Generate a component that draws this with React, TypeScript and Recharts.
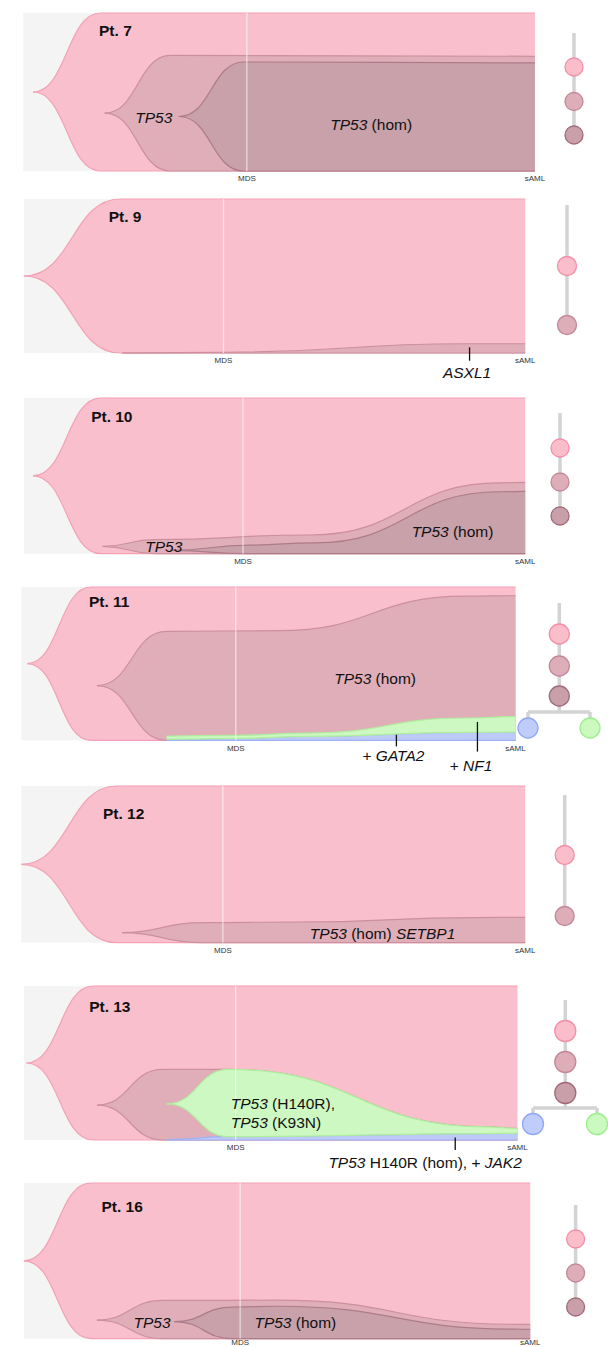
import React from 'react';
import {
  ComposedChart,
  Area,
  XAxis,
  YAxis,
  CartesianGrid,
  ReferenceLine,
  ReferenceDot,
} from 'recharts';

const FONT = '"Liberation Sans", Arial, Helvetica, sans-serif';

// clone rows: [time (% of course), lower %, upper %]
const pt7Founder = [[1.9, 50, 50], [15.1, 0, 100], [100, 0, 100]];
const pt7Tp53 = [[15.9, 36.6, 36.6], [28.8, 0, 73.2], [100, 0, 72.6]];
const pt7Hom = [[30.4, 34.5, 34.5], [43.1, 0, 69], [100, 0, 68.4]];

const pt9Founder = [[0, 50, 50], [19.2, 0, 100], [100, 0, 100]];
const pt9Asxl1 = [[19.6, 0, 0], [40, 0, 0.5], [88, 0, 6], [100, 0, 6]];

const pt10Founder = [[1.8, 50, 50], [15.3, 0, 100], [100, 0, 100]];
const pt10Tp53 = [[15.7, 4.7, 4.7], [26.1, 0, 9], [57, 0, 12], [95, 0, 45.5], [100, 0, 45.8]];
const pt10Hom = [[29.2, 2.1, 2.1], [45, 0, 5.5], [58, 0, 7], [95, 0, 39.8], [100, 0, 40]];

const pt11Founder = [[1.2, 50, 50], [14.1, 0, 100], [100, 0, 100]];
const pt11Hom = [[15.3, 35.7, 35.7], [29.4, 0, 71.1], [52, 0, 71.5], [90, 0, 94], [100, 0, 94.3]];
const pt11Blue = [[29.4, 0, 0.8], [43.4, 0, 1.3], [58, 0, 2.6], [90, 0, 5.2], [100, 0, 5.4]];
const pt11Green = [[29.4, 0.8, 2.8], [43.4, 1.3, 3.3], [58, 2.6, 4.8], [90, 5.2, 14.6], [100, 5.4, 15.5]];

const pt12Founder = [[0, 50, 50], [18.9, 0, 100], [100, 0, 100]];
const pt12Hom = [[20, 6.4, 6.4], [35.8, 0, 12.8], [55, 0, 13.2], [90, 0, 16], [100, 0, 16.2]];

const pt13Founder = [[0.5, 50, 50], [14, 0, 100], [100, 0, 100]];
const pt13Tp53 = [[14.8, 22.7, 22.7], [28.1, 0, 45.9], [41.5, 0, 45.9], [94, 0, 8.5], [100, 0, 7.6]];
const pt13Blue = [[28.9, 0, 0.3], [41.5, 0, 2.2], [94, 0, 4.2], [100, 0, 4.3]];
const pt13Green = [[28.9, 23.5, 23.5], [41.5, 2.2, 45.9], [94, 4.2, 8.5], [100, 4.3, 7.6]];

const pt16Founder = [[0, 50, 50], [13.2, 0, 100], [100, 0, 100]];
const pt16Tp53 = [[14.4, 11.9, 11.9], [27.4, 0, 24.5], [50, 0, 24.7], [97, 0, 9.2], [100, 0, 9.1]];
const pt16Hom = [[29.7, 10.9, 10.9], [41.2, 0, 20.2], [50, 0, 20.8], [97, 0, 6.1], [100, 0, 5.9]];

const patients = ['Pt. 7', 'Pt. 9', 'Pt. 10', 'Pt. 11', 'Pt. 12', 'Pt. 13', 'Pt. 16'];
const mdsTimes = [43.7, 39.8, 43.7, 43.4, 40, 42.9, 42.7];
const timeTicks = ['MDS', 'sAML'];

type Part = [string, boolean];
type Note = { t: number; y: number; parts: Part[]; anchor?: 'start' | 'middle' | 'end' };
type Tick = { t: number; y1: number; y2: number };

const C = {
  founder: { fill: '#fabfcc', stroke: '#f4a1b5' },
  tp53: { fill: '#dfaeb9', stroke: '#cc8f9e' },
  hom: { fill: '#c9a1aa', stroke: '#ad7b89' },
  green: { fill: '#cdf8c2', stroke: '#aeee9c' },
  blue: { fill: '#bdcaf8', stroke: '#9fb2f4' },
};

const NODE = {
  pink: { fill: '#fabecb', stroke: '#f38ea7' },
  mauve: { fill: '#ddadb8', stroke: '#c4879a' },
  dark: { fill: '#c9a0a9', stroke: '#a2697a' },
  blue: { fill: '#c0ccfa', stroke: '#8fa7f5' },
  green: { fill: '#ccf9c0', stroke: '#9cee8a' },
};

const panels = [
  {
    left: 23.3, right: 534.9, top: 12.7, h: 158, tickGap: 4.5,
    clones: [
      { rows: pt7Founder, ...C.founder },
      { rows: pt7Tp53, ...C.tp53 },
      { rows: pt7Hom, ...C.hom },
    ],
    title: { t: 14.8, y: 89.5 },
    notes: [
      { t: 25.5, y: 34.2, parts: [['TP53', true]] },
      { t: 68, y: 30, parts: [['TP53', true], [' (hom)', false]] },
    ] as Note[],
    ticks: [] as Tick[],
    tree: { x: 574, top: 33, r: 9, nodes: [67, 101.5, 135], colors: ['pink', 'mauve', 'dark'] },
  },
  {
    left: 24, right: 525.2, top: 199.3, h: 154, tickGap: 4.5,
    clones: [
      { rows: pt9Founder, ...C.founder },
      { rows: pt9Asxl1, ...C.tp53 },
    ],
    title: { t: 16.9, y: 88.7 },
    notes: [{ t: 88.4, y: -12.5, parts: [['ASXL1', true]] }] as Note[],
    ticks: [{ t: 88.9, y1: 3.7, y2: -5 }],
    tree: { x: 567, top: 205, r: 9.5, nodes: [266, 325], colors: ['pink', 'mauve'] },
  },
  {
    left: 24, right: 525.2, top: 398.3, h: 155.7, tickGap: 4.5,
    clones: [
      { rows: pt10Founder, ...C.founder },
      { rows: pt10Tp53, ...C.tp53 },
      { rows: pt10Hom, ...C.hom },
    ],
    title: { t: 13.4, y: 88.2 },
    notes: [
      { t: 27.9, y: 4.7, parts: [['TP53', true]] },
      { t: 85.5, y: 14.8, parts: [['TP53', true], [' (hom)', false]] },
    ] as Note[],
    ticks: [] as Tick[],
    tree: { x: 560, top: 413, r: 9, nodes: [448, 482, 516], colors: ['pink', 'mauve', 'dark'] },
  },
  {
    left: 21.3, right: 515.5, top: 587.3, h: 153.4, tickGap: 4.5,
    clones: [
      { rows: pt11Founder, ...C.founder },
      { rows: pt11Hom, ...C.tp53 },
      { rows: pt11Blue, ...C.blue },
      { rows: pt11Green, ...C.green },
    ],
    title: { t: 13.7, y: 90.6 },
    notes: [
      { t: 71.6, y: 40.7, parts: [['TP53', true], [' (hom)', false]] },
      { t: 75.3, y: -9.8, parts: [['+ ', false], ['GATA2', true]] },
      { t: 91, y: -16, parts: [['+ ', false], ['NF1', true]] },
    ] as Note[],
    ticks: [
      { t: 75.9, y1: 3.7, y2: -3.9 },
      { t: 92.3, y1: 12, y2: -7.3 },
    ],
    tree: {
      x: 559.3, top: 603, r: 10, nodes: [634, 666, 696], colors: ['pink', 'mauve', 'dark'],
      branch: { y: 712, left: 528, right: 590, nodeY: 728 },
    },
  },
  {
    left: 21.3, right: 525.2, top: 786, h: 156.7, tickGap: 4.5,
    clones: [
      { rows: pt12Founder, ...C.founder },
      { rows: pt12Hom, ...C.tp53 },
    ],
    title: { t: 16.2, y: 83 },
    notes: [
      { t: 71.7, y: 6.5, parts: [['TP53', true], [' (hom) ', false], ['SETBP1', true]] },
    ] as Note[],
    ticks: [] as Tick[],
    tree: { x: 564.7, top: 795, r: 9.5, nodes: [855, 916], colors: ['pink', 'mauve'] },
  },
  {
    left: 24, right: 517.4, top: 986, h: 154, tickGap: 4.5,
    clones: [
      { rows: pt13Founder, ...C.founder },
      { rows: pt13Tp53, ...C.tp53 },
      { rows: pt13Blue, ...C.blue },
      { rows: pt13Green, ...C.green },
    ],
    title: { t: 13.2, y: 87 },
    notes: [
      { t: 41.9, y: 24.2, anchor: 'start', parts: [['TP53', true], [' (H140R),', false]] },
      { t: 41.9, y: 11.9, anchor: 'start', parts: [['TP53', true], [' (K93N)', false]] },
      { t: 100.9, y: -14.1, anchor: 'end', parts: [['TP53', true], [' H140R (hom), + ', false], ['JAK2', true]] },
    ] as Note[],
    ticks: [{ t: 87.4, y1: 1.7, y2: -6.5 }],
    tree: {
      x: 565.3, top: 1000, r: 10.5, nodes: [1031, 1062, 1093], colors: ['pink', 'mauve', 'dark'],
      branch: { y: 1108, left: 533, right: 597, nodeY: 1124 },
    },
  },
  {
    left: 24, right: 530.2, top: 1182.7, h: 155.6, tickGap: 0.5,
    clones: [
      { rows: pt16Founder, ...C.founder },
      { rows: pt16Tp53, ...C.tp53 },
      { rows: pt16Hom, ...C.hom },
    ],
    title: { t: 15.3, y: 85.1 },
    notes: [
      { t: 25.3, y: 10.9, parts: [['TP53', true]] },
      { t: 53.6, y: 10.9, parts: [['TP53', true], [' (hom)', false]] },
    ] as Note[],
    ticks: [] as Tick[],
    tree: { x: 575.6, top: 1205, r: 9, nodes: [1239, 1273, 1307], colors: ['pink', 'mauve', 'dark'] },
  },
];

const toRows = (rows: number[][]) => rows.map(([t, lo, hi]) => ({ t, v: [lo, hi] }));

function textAt(parts: Part[], anchor: 'start' | 'middle' | 'end', size: number, bold = false) {
  return (props: any) => {
    const vb = props.viewBox || props;
    const x = vb.x + (vb.width || 0) / 2;
    const y = vb.y + (vb.height || 0) / 2;
    return (
      <text
        x={x}
        y={y}
        textAnchor={anchor}
        dominantBaseline="central"
        fontFamily={FONT}
        fontSize={size}
        fontWeight={bold ? 700 : 400}
        fill="#111"
        style={{ whiteSpace: 'pre' }}
      >
        {parts.map(([s, it], i) => (
          <tspan key={i} fontStyle={it ? 'italic' : 'normal'}>
            {s}
          </tspan>
        ))}
      </text>
    );
  };
}

const TOP_PAD = 4;
const AXIS_H = 12;
const BOTTOM_PAD = 40;

function FishPanel({ p, idx }: { p: (typeof panels)[number]; idx: number }) {
  const mds = mdsTimes[idx];
  return (
    <ComposedChart
      width={608}
      height={TOP_PAD + p.h + AXIS_H + BOTTOM_PAD}
      margin={{ top: TOP_PAD, right: 608 - p.right, bottom: BOTTOM_PAD, left: p.left }}
    >
      <CartesianGrid horizontal={false} vertical={false} fill="#f4f4f4" fillOpacity={1} />
      <XAxis
        type="number"
        dataKey="t"
        domain={[0, 100]}
        ticks={[mds, 100]}
        interval={0}
        tickFormatter={(v: number) => (v === 100 ? timeTicks[1] : timeTicks[0])}
        axisLine={false}
        tickLine={false}
        tickSize={0}
        tickMargin={p.tickGap}
        height={AXIS_H}
        tick={{ fontSize: 8, fill: '#333', fontFamily: FONT }}
      />
      <YAxis type="number" domain={[0, 100]} hide />
      {p.clones.map((c, i) => (
        <Area
          key={i}
          data={toRows(c.rows)}
          dataKey="v"
          type="bumpX"
          fill={c.fill}
          fillOpacity={1}
          stroke={c.stroke}
          strokeWidth={1.2}
          dot={false}
          activeDot={false}
          isAnimationActive={false}
        />
      ))}
      <ReferenceLine x={mds} stroke="#ffffff" strokeOpacity={0.6} strokeWidth={1.3} />
      {p.ticks.map((k, i) => (
        <ReferenceLine
          key={'k' + i}
          segment={[{ x: k.t, y: k.y1 }, { x: k.t, y: k.y2 }]}
          stroke="#111"
          strokeWidth={1.3}
          ifOverflow="visible"
        />
      ))}
      <ReferenceDot
        x={p.title.t}
        y={p.title.y}
        r={1}
        fill="none"
        stroke="none"
        ifOverflow="visible"
        label={textAt([[patients[idx], false]], 'start', 15.5, true)}
      />
      {p.notes.map((n, i) => (
        <ReferenceDot
          key={'n' + i}
          x={n.t}
          y={n.y}
          r={1}
          fill="none"
          stroke="none"
          ifOverflow="visible"
          label={textAt(n.parts, n.anchor || 'middle', 15.5)}
        />
      ))}
    </ComposedChart>
  );
}

function Trees() {
  const grey = '#d3d3d3';
  return (
    <svg width={608} height={1347} style={{ position: 'absolute', left: 0, top: 0 }}>
      {panels.map((p, i) => {
        const t = p.tree as any;
        const last = t.nodes[t.nodes.length - 1];
        const b = t.branch;
        return (
          <g key={i}>
            <line x1={t.x} x2={t.x} y1={t.top} y2={b ? b.y : last} stroke={grey} strokeWidth={3.5} />
            {b && (
              <g>
                <line x1={b.left} x2={b.right} y1={b.y} y2={b.y} stroke={grey} strokeWidth={3.5} />
                <line x1={b.left} x2={b.left} y1={b.y} y2={b.nodeY} stroke={grey} strokeWidth={3.5} />
                <line x1={b.right} x2={b.right} y1={b.y} y2={b.nodeY} stroke={grey} strokeWidth={3.5} />
                <circle cx={b.left} cy={b.nodeY} r={t.r} fill={NODE.blue.fill} stroke={NODE.blue.stroke} strokeWidth={1.3} />
                <circle cx={b.right} cy={b.nodeY} r={t.r} fill={NODE.green.fill} stroke={NODE.green.stroke} strokeWidth={1.3} />
              </g>
            )}
            {t.nodes.map((y: number, j: number) => {
              const col = (NODE as any)[t.colors[j]];
              return <circle key={j} cx={t.x} cy={y} r={t.r} fill={col.fill} stroke={col.stroke} strokeWidth={1.3} />;
            })}
          </g>
        );
      })}
    </svg>
  );
}

export default function App() {
  return (
    <div
      style={{
        position: 'absolute',
        left: 0,
        top: 0,
        width: 608,
        height: 1347,
        overflow: 'hidden',
        background: '#fff',
      }}
    >
      {panels.map((p, i) => (
        <div key={i} style={{ position: 'absolute', left: 0, top: p.top - TOP_PAD }}>
          <FishPanel p={p} idx={i} />
        </div>
      ))}
      <Trees />
    </div>
  );
}
